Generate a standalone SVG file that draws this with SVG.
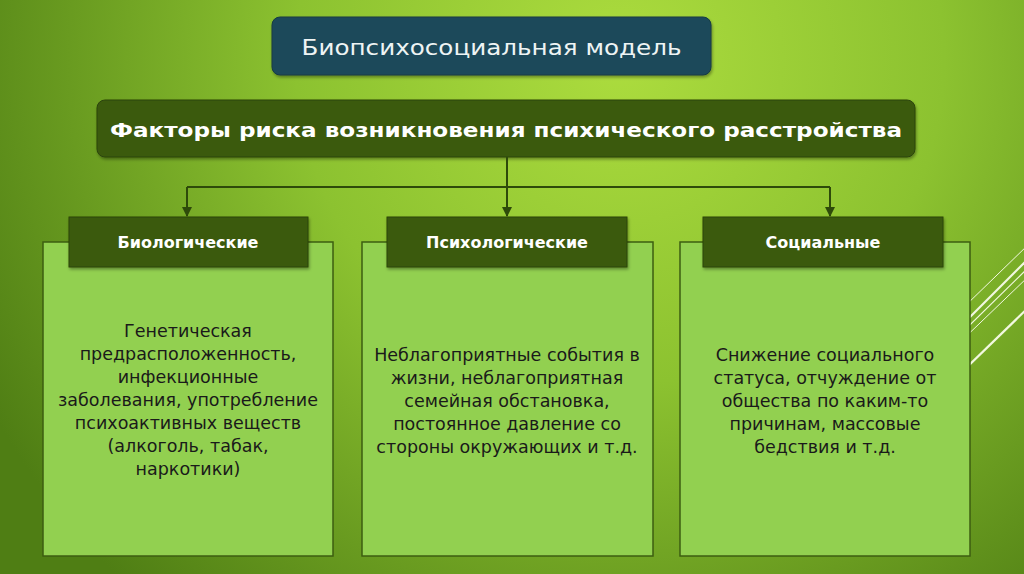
<svg xmlns="http://www.w3.org/2000/svg" width="1024" height="574" viewBox="0 0 1024 574">
<defs>
<radialGradient id="bg" cx="620" cy="60" r="720" gradientUnits="userSpaceOnUse">
<stop offset="0" stop-color="#acdc3e"/>
<stop offset="0.45" stop-color="#8cc230"/>
<stop offset="1" stop-color="#4f7e14"/>
</radialGradient>
<marker id="arr" viewBox="0 0 10 10" refX="9" refY="5" markerWidth="5" markerHeight="5" orient="auto">
<path d="M0,0 L10,5 L0,10 z" fill="#2e4a0a"/>
</marker>
<filter id="sh" x="-10%" y="-10%" width="120%" height="130%">
<feDropShadow dx="1" dy="2" stdDeviation="1.5" flood-color="#000" flood-opacity="0.35"/>
</filter>
</defs>
<style>
.body{fill:#92d050;stroke:#3d5e10;stroke-width:1.5}
.hdr{fill:#3b5a0f;stroke:#2c450a;stroke-width:1}
.ht{font-family:"DejaVu Sans",sans-serif;font-weight:bold;font-size:16px;fill:#ffffff;text-anchor:middle}
.bt{font-family:"DejaVu Sans",sans-serif;font-size:17.5px;fill:#1a1a1a;text-anchor:middle}
.con{stroke:#2e4a0a;stroke-width:2;fill:none}
.deco{stroke:#f2f8e0;fill:none}
</style>
<rect width="1024" height="574" fill="url(#bg)"/>
<g id="decoration">
<line class="deco" x1="930" y1="340" x2="1030" y2="243" stroke-width="1"/>
<line class="deco" x1="930" y1="357" x2="1030" y2="257" stroke-width="2"/>
<line class="deco" x1="930" y1="364" x2="1030" y2="266" stroke-width="1.2"/>
<line class="deco" x1="930" y1="371" x2="1030" y2="275" stroke-width="1"/>
<line class="deco" x1="930" y1="403" x2="1030" y2="306" stroke-width="2.2"/>
</g>
<g id="title">
<rect x="272" y="17" width="439" height="58" rx="8" fill="#1e4a5a" stroke="#163a44" stroke-width="1" filter="url(#sh)"/>
<text x="491.5" y="55" font-family="DejaVu Sans, sans-serif" font-size="22" fill="#eef4f4" text-anchor="middle" textLength="380" lengthAdjust="spacingAndGlyphs">Биопсихосоциальная модель</text>
</g>
<g id="factors">
<rect x="97" y="100" width="818" height="57" rx="8" fill="#3b5a0f" stroke="#2c450a" stroke-width="1" filter="url(#sh)"/>
<text x="506" y="137" font-family="DejaVu Sans, sans-serif" font-weight="bold" font-size="20" fill="#ffffff" text-anchor="middle" textLength="792" lengthAdjust="spacingAndGlyphs">Факторы риска возникновения психического расстройства</text>
</g>
<g id="connectors">
<line class="con" x1="507" y1="157" x2="507" y2="187"/>
<line class="con" x1="187" y1="187" x2="830" y2="187"/>
<line class="con" x1="187" y1="187" x2="187" y2="216" marker-end="url(#arr)"/>
<line class="con" x1="507" y1="187" x2="507" y2="216" marker-end="url(#arr)"/>
<line class="con" x1="830" y1="187" x2="830" y2="216" marker-end="url(#arr)"/>
</g>
<g id="bio">
<rect class="body" x="43" y="242" width="290" height="314"/>
<rect class="hdr" x="69" y="217" width="239" height="50" filter="url(#sh)"/>
<text class="ht" x="188" y="248">Биологические</text>
<text class="bt" x="188" y="337">Генетическая</text>
<text class="bt" x="188" y="360">предрасположенность,</text>
<text class="bt" x="188" y="383">инфекционные</text>
<text class="bt" x="188" y="406">заболевания, употребление</text>
<text class="bt" x="188" y="429">психоактивных веществ</text>
<text class="bt" x="188" y="452">(алкоголь, табак,</text>
<text class="bt" x="188" y="475">наркотики)</text>
</g>
<g id="psy">
<rect class="body" x="362" y="242" width="291" height="314"/>
<rect class="hdr" x="387" y="217" width="240" height="50" filter="url(#sh)"/>
<text class="ht" x="507" y="248">Психологические</text>
<text class="bt" x="507" y="361">Неблагоприятные события в</text>
<text class="bt" x="507" y="384">жизни, неблагоприятная</text>
<text class="bt" x="507" y="407">семейная обстановка,</text>
<text class="bt" x="507" y="430">постоянное давление со</text>
<text class="bt" x="507" y="453">стороны окружающих и т.д.</text>
</g>
<g id="soc">
<rect class="body" x="680" y="242" width="290" height="314"/>
<rect class="hdr" x="703" y="217" width="240" height="50" filter="url(#sh)"/>
<text class="ht" x="823" y="248">Социальные</text>
<text class="bt" x="825" y="361">Снижение социального</text>
<text class="bt" x="825" y="384">статуса, отчуждение от</text>
<text class="bt" x="825" y="407">общества по каким-то</text>
<text class="bt" x="825" y="430">причинам, массовые</text>
<text class="bt" x="825" y="453">бедствия и т.д.</text>
</g>
</svg>
